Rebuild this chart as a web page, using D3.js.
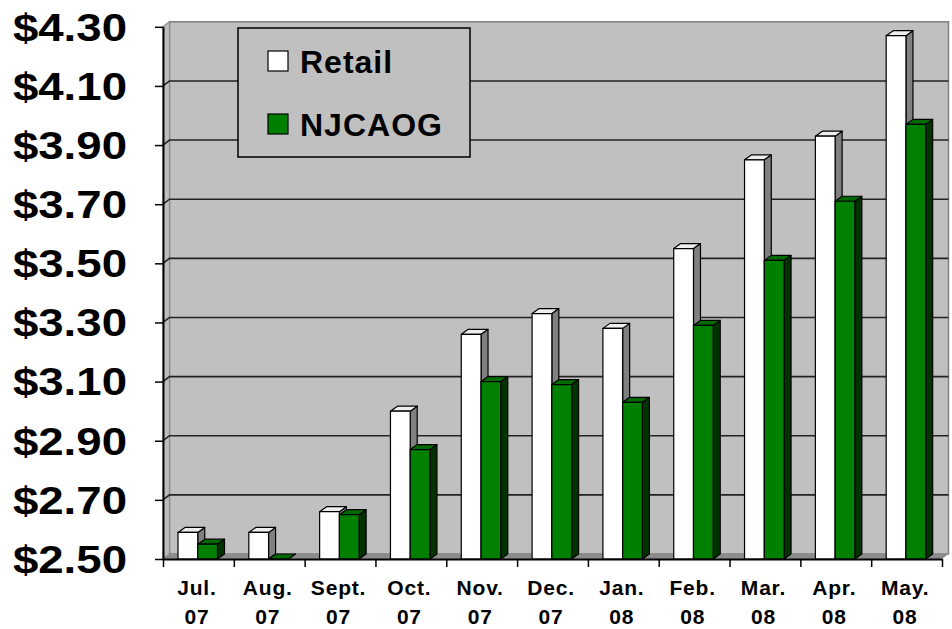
<!DOCTYPE html>
<html>
<head>
<meta charset="utf-8">
<script src="https://cdn.jsdelivr.net/npm/d3@7"></script>
<style>
  body { margin: 0; background: #fff; }
  text { font-family: "Liberation Sans", Arial, sans-serif; font-weight: bold; fill: #000; }
</style>
</head>
<body>
<svg id="chart" width="952" height="629"></svg>
<script>
// data
var months = ["Jul.", "Aug.", "Sept.", "Oct.", "Nov.", "Dec.", "Jan.", "Feb.", "Mar.", "Apr.", "May."];
var years = ["07", "07", "07", "07", "07", "07", "08", "08", "08", "08", "08"];
var series = ["Retail", "NJCAOG"];
var retail = [2.59, 2.59, 2.66, 3.00, 3.26, 3.33, 3.28, 3.55, 3.85, 3.93, 4.27];
var njcaog = [2.55, 2.50, 2.65, 2.87, 3.10, 3.09, 3.03, 3.29, 3.51, 3.71, 3.97];
var yTicks = [2.5, 2.7, 2.9, 3.1, 3.3, 3.5, 3.7, 3.9, 4.1, 4.3];

var colors = {
  Retail: { front: "#ffffff", top: "#eeeeee", side: "#808080" },
  NJCAOG: { front: "#008000", top: "#006a00", side: "#003300" }
};

var svg = d3.select("#chart"),
  left = 163, right = 942, bottom = 559,
  wdx = 6.5, wdy = -5,   // depth of walls
  bdx = 7, bdy = -5;     // depth of bars

var x = d3.scaleBand().domain(d3.range(months.length)).range([left, right]);
var xs = d3.scaleBand().domain(series).range([15, 54.5]);
var xb = d3.scaleLinear().domain([0, months.length]).range([left, right]);
var y = d3.scaleLinear().domain([2.5, 4.3]).range([bottom, 26.8]);

var wallTop = y(4.3);

// back wall
svg.append("rect")
  .attr("x", left + wdx).attr("y", wallTop + wdy)
  .attr("width", right - left).attr("height", bottom - wallTop)
  .attr("fill", "#c0c0c0").attr("stroke", "#808080").attr("stroke-width", 1.5);

// left wall
svg.append("polygon")
  .attr("points", [[left, wallTop], [left + wdx, wallTop + wdy], [left + wdx, bottom + wdy], [left, bottom]].join(" "))
  .attr("fill", "#bdbdbd").attr("stroke", "#8a8a8a").attr("stroke-width", 1.2);

// floor
svg.append("polygon")
  .attr("points", [[left, bottom], [right, bottom], [right + wdx, bottom + wdy], [left + wdx, bottom + wdy]].join(" "))
  .attr("fill", "#8c8c8c");

// gridlines on walls
svg.append("g").selectAll("path")
  .data(yTicks.filter(function (d) { return d > 2.5 && d < 4.3; }))
  .join("path")
  .attr("d", function (d) {
    return "M" + left + "," + y(d) + "L" + (left + wdx) + "," + (y(d) + wdy) + "H" + (right + wdx);
  })
  .attr("fill", "none").attr("stroke", "#222").attr("stroke-width", 1.6);

// bars
var bars = [];
months.forEach(function (m, i) {
  bars.push({ i: i, s: "Retail", v: retail[i] });
  bars.push({ i: i, s: "NJCAOG", v: njcaog[i] });
});

var bar = svg.append("g").selectAll("g").data(bars).join("g");

bar.each(function (d) {
  var g = d3.select(this),
    x0 = x(d.i) + xs(d.s),
    w = xs.bandwidth(),
    yt = y(d.v),
    yb = y(2.5),
    c = colors[d.s];

  g.append("polygon")
    .attr("points", [[x0 + w, yt], [x0 + w + bdx, yt + bdy], [x0 + w + bdx, yb + bdy], [x0 + w, yb]].join(" "))
    .attr("fill", c.side);
  g.append("polygon")
    .attr("points", [[x0, yt], [x0 + bdx, yt + bdy], [x0 + w + bdx, yt + bdy], [x0 + w, yt]].join(" "))
    .attr("fill", c.top);
  g.append("rect")
    .attr("x", x0).attr("y", yt).attr("width", w).attr("height", yb - yt)
    .attr("fill", c.front);
  g.selectAll("*").attr("stroke", "#000").attr("stroke-width", 1.2).attr("stroke-linejoin", "round");
});

// y axis
var yAxis = svg.append("g")
  .attr("transform", "translate(" + left + ",0)")
  .call(d3.axisLeft(y).tickValues(yTicks).tickSize(8).tickSizeOuter(0).tickFormat(d3.format("$.2f")));
yAxis.select(".domain").attr("stroke", "#000").attr("stroke-width", 2);
yAxis.selectAll(".tick line").attr("stroke", "#000").attr("stroke-width", 1.5);
yAxis.selectAll(".tick text")
  .attr("x", null).attr("dy", "0.35em")
  .attr("transform", "translate(-36,0) scale(1.2,1)")
  .style("font-size", "38px").style("font-family", "'Liberation Sans', Arial, sans-serif")
  .style("font-weight", "bold").attr("fill", "#000");

// x axis (ticks at category boundaries)
var xAxis = svg.append("g")
  .attr("transform", "translate(0," + bottom + ")")
  .call(d3.axisBottom(xb).ticks(months.length).tickSize(8).tickSizeOuter(0).tickFormat(""));
xAxis.select(".domain").attr("stroke", "#000").attr("stroke-width", 2);
xAxis.selectAll(".tick line").attr("stroke", "#000").attr("stroke-width", 1.5);

var xl = svg.append("g").selectAll("text").data(months).join("text")
  .attr("text-anchor", "middle")
  .style("font-size", "21px").style("letter-spacing", "0.8px")
  .attr("transform", function (d, i) { return "translate(" + (x(i) + x.bandwidth() / 2 - 1.5) + ",0)"; });
xl.append("tspan").attr("x", 0).attr("y", 595).text(function (d) { return d; });
xl.append("tspan").attr("x", 0).attr("y", 624).text(function (d, i) { return years[i]; });

// legend
var lg = svg.append("g").attr("transform", "translate(238,28)");
lg.append("rect").attr("width", 232).attr("height", 129)
  .attr("fill", "#c0c0c0").attr("stroke", "#000").attr("stroke-width", 1.5);
lg.selectAll("g").data(series).join("g")
  .attr("transform", function (d, i) { return "translate(30," + (23 + i * 63) + ")"; })
  .each(function (d) {
    var g = d3.select(this);
    g.append("rect").attr("width", 20).attr("height", 20)
      .attr("fill", colors[d].front).attr("stroke", "#000").attr("stroke-width", 1.2);
    g.append("text").attr("x", 32).attr("y", 22)
      .style("font-size", "32px").style("letter-spacing", "1px").text(d);
  });
</script>
</body>
</html>
